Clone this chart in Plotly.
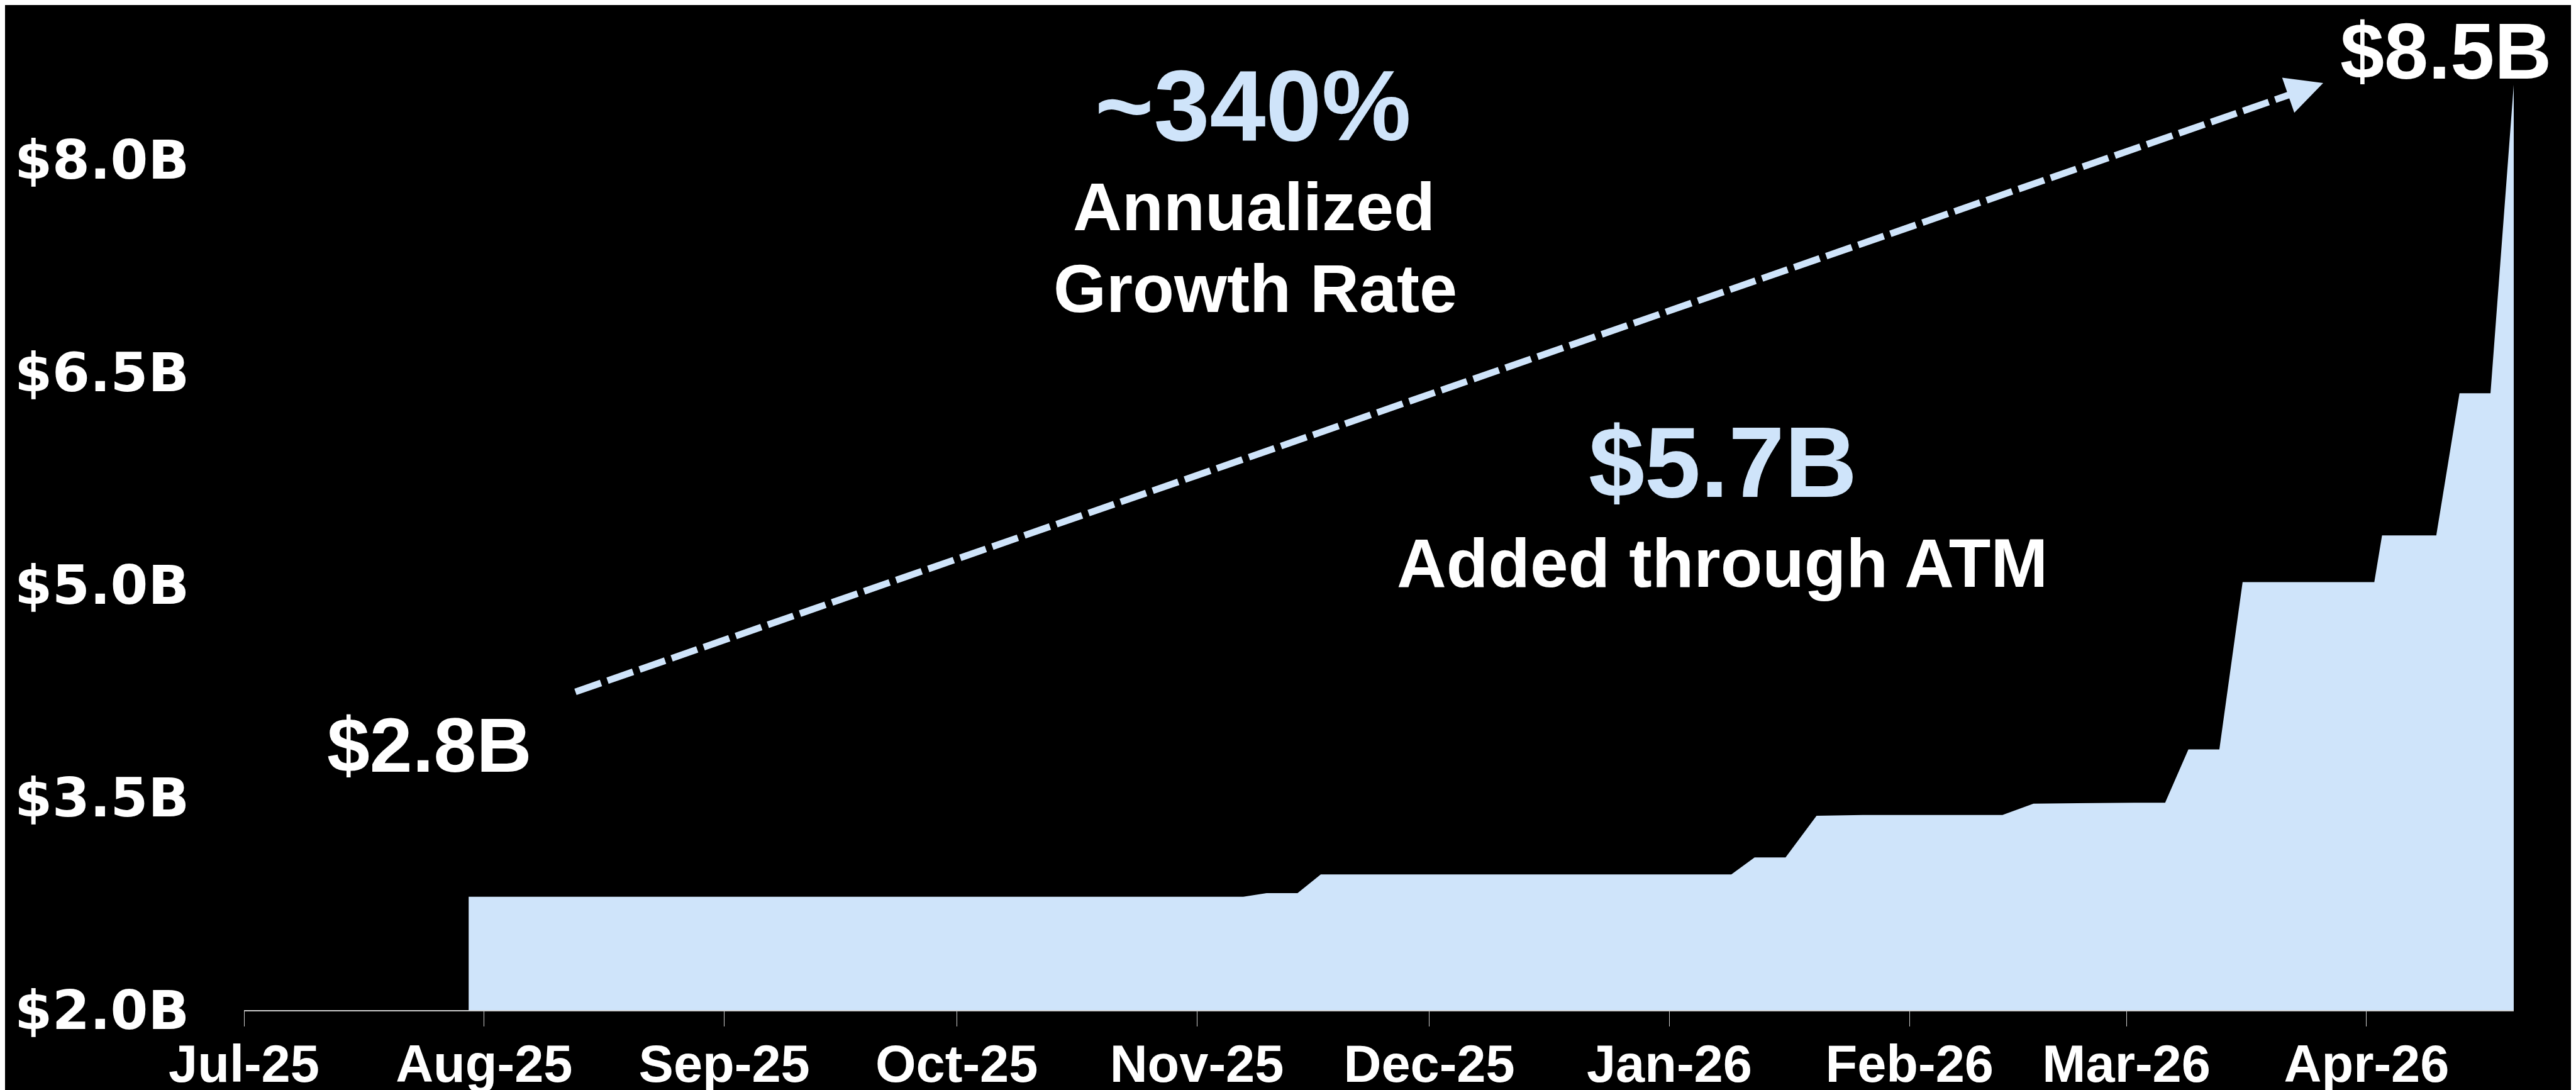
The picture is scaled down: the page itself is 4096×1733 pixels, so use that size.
import plotly.graph_objects as go

# ---------------- data ----------------
dates = ["2025-07-30", "2025-11-07", "2025-11-10", "2025-11-14", "2025-11-17",
         "2026-01-09", "2026-01-12", "2026-01-16", "2026-01-20", "2026-01-26",
         "2026-02-13", "2026-02-17", "2026-03-02", "2026-03-06", "2026-03-09",
         "2026-03-13", "2026-03-16", "2026-04-02", "2026-04-03", "2026-04-10",
         "2026-04-13", "2026-04-17", "2026-04-20"]
values = [2.80, 2.80, 2.826, 2.826, 2.958,
          2.958, 3.077, 3.077, 3.371, 3.377,
          3.377, 3.457, 3.464, 3.464, 3.84,
          3.84, 5.02, 5.02, 5.35, 5.35,
          6.353, 6.353, 8.53]

month_ticks = ["2025-07-01", "2025-08-01", "2025-09-01", "2025-10-01", "2025-11-01",
               "2025-12-01", "2026-01-01", "2026-02-01", "2026-03-01", "2026-04-01"]
month_labels = ["Jul-25", "Aug-25", "Sep-25", "Oct-25", "Nov-25",
                "Dec-25", "Jan-26", "Feb-26", "Mar-26", "Apr-26"]
y_ticks = [2.0, 3.5, 5.0, 6.5, 8.0]
y_labels = ["$2.0B", "$3.5B", "$5.0B", "$6.5B", "$8.0B"]

# ---------------- layout constants ----------------
W, H = 4096, 1733
L, R, T, B = 380, 107, 111, 135
BLUE = "#CFE4FA"
WHITE = "#FFFFFF"
ARIAL = "Liberation Sans, Arial, sans-serif"
WIDE = "DejaVu Sans, Verdana, sans-serif"


def paper(xp, yp):
    return (xp - L) / (W - L - R), (H - B - yp) / (H - T - B)


fig = go.Figure()
fig.add_trace(go.Scatter(
    x=dates, y=values, mode="lines", fill="tozeroy",
    fillcolor=BLUE, line=dict(width=0, color=BLUE),
    hoverinfo="skip", showlegend=False,
))

# text annotations: (text, x px, y px (box centre), size, colour)
texts = [
    ("~340%", 1984, 160, 160, BLUE),
    ("Annualized", 1986, 320, 108, WHITE),
    ("Growth Rate", 1988, 450, 108, WHITE),
    ("$5.7B", 2731, 726, 160, BLUE),
    ("Added through ATM", 2730, 887, 109, WHITE),
    ("$2.8B", 675, 1177, 122, WHITE),
    ("$8.5B", 3881, 74, 126, WHITE),
]
annotations = []
for txt, xp, yp, sz, col in texts:
    px_, py_ = paper(xp, yp)
    annotations.append(dict(
        text=txt, x=px_, y=py_, xref="paper", yref="paper",
        xanchor="center", yanchor="middle", showarrow=False,
        font=dict(family=ARIAL, size=sz, color=col, weight="bold"),
    ))

# dashed growth arrow
arrow_start = (907, 1092)
arrow_tip = (3686, 124)
dx = arrow_tip[0] - arrow_start[0]
dy = arrow_tip[1] - arrow_start[1]
ln = (dx ** 2 + dy ** 2) ** 0.5
ux, uy = dx / ln, dy / ln
line_end = (arrow_tip[0] - 30 * ux, arrow_tip[1] - 30 * uy)
x0, y0 = paper(*arrow_start)
x1, y1 = paper(*line_end)
shapes = [dict(type="line", xref="paper", yref="paper", x0=x0, y0=y0, x1=x1, y1=y1,
               line=dict(color=BLUE, width=10.7, dash="43px,11px"))]
tx, ty = paper(*arrow_tip)
annotations.append(dict(
    text="", x=tx, y=ty, xref="paper", yref="paper",
    showarrow=True, ax=-38 * ux, ay=-38 * uy,
    arrowhead=2, arrowsize=1.1, arrowwidth=10.7, arrowcolor=BLUE,
))

fig.update_layout(
    width=W, height=H,
    margin=dict(l=L, r=R, t=T, b=B, pad=0, autoexpand=False),
    paper_bgcolor="#000000", plot_bgcolor="#000000",
    showlegend=False,
    annotations=annotations, shapes=shapes,
    xaxis=dict(
        type="date", range=["2025-07-01", "2026-04-20"],
        tickvals=month_ticks, ticktext=month_labels,
        ticks="outside", ticklen=24, tickwidth=1.3, tickcolor="#CFCFCF",
        showline=True, linecolor="#CFCFCF", linewidth=1.5,
        showgrid=False, zeroline=False, automargin=False,
        tickfont=dict(family=ARIAL, size=83, color=WHITE, weight="bold"),
        ticklabelstandoff=-11,
    ),
    yaxis=dict(
        range=[2.0, 8.6], tickvals=y_ticks, ticktext=y_labels,
        ticks="", showline=False, showgrid=False, zeroline=False, automargin=False,
        tickfont=dict(family=WIDE, size=86, color=WHITE, weight="bold"),
        ticklabelstandoff=86,
    ),
)

fig.write_html("out.html")
